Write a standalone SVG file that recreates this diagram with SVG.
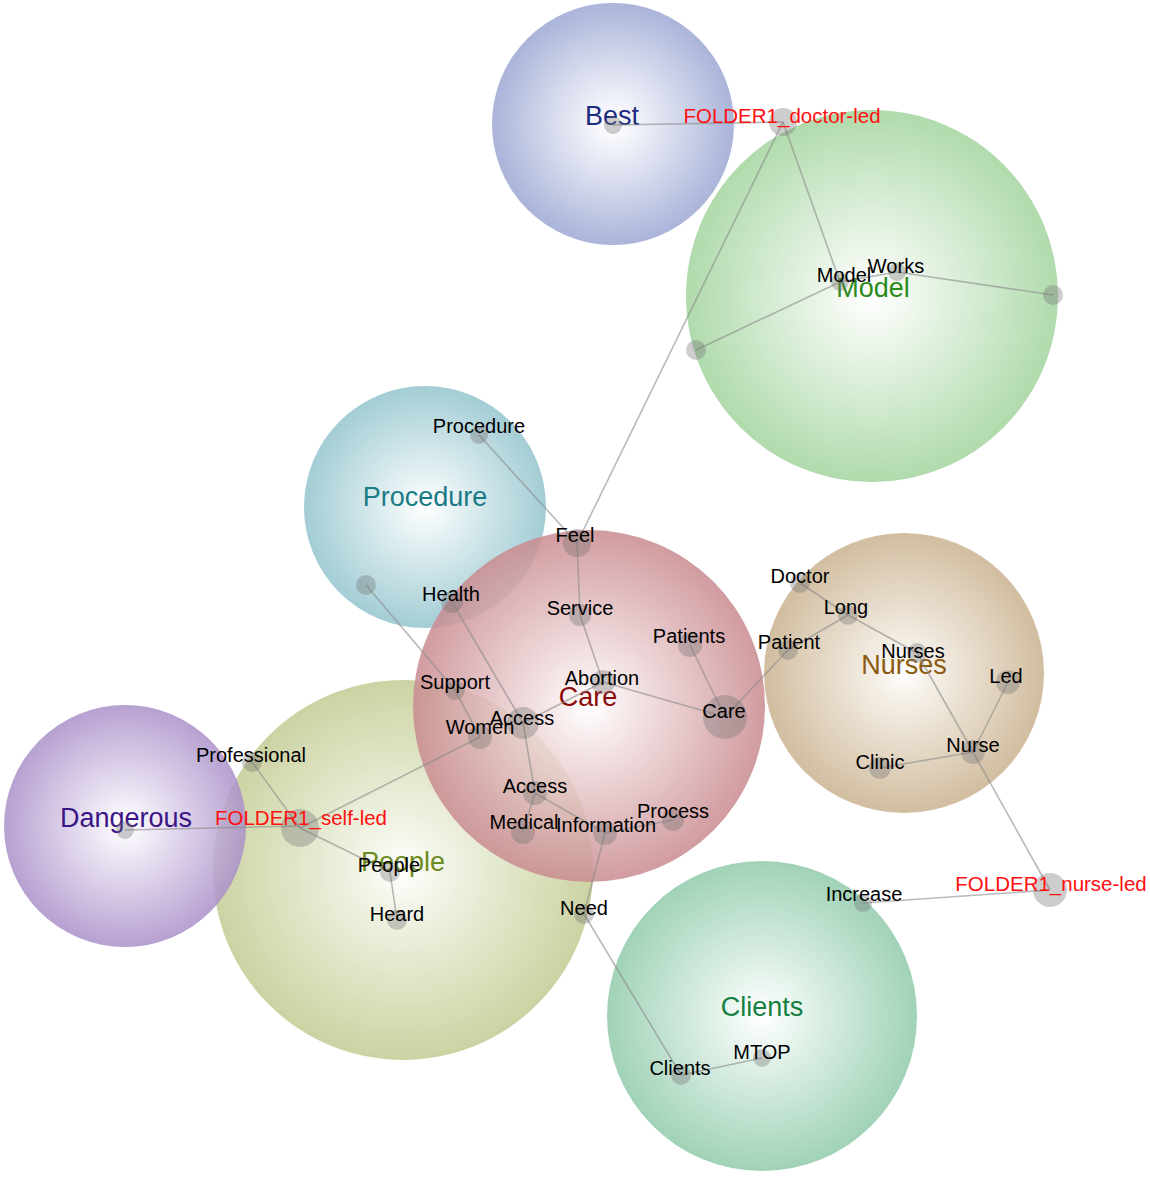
<svg xmlns="http://www.w3.org/2000/svg" width="1150" height="1177" viewBox="0 0 1150 1177">
<style>
.cl{fill-opacity:0.85}
.dot{fill:#707070;fill-opacity:0.35}
.e{stroke:#8a8a8a;stroke-opacity:0.6;stroke-width:1.6;fill:none}
.t{font-family:"Liberation Sans",Arial,sans-serif;font-size:20px;fill:#000;text-anchor:middle}
.f{font-family:"Liberation Sans",Arial,sans-serif;font-size:20.5px;fill:#ff1010;text-anchor:middle}
.c{font-family:"Liberation Sans",Arial,sans-serif;font-size:27px;text-anchor:middle}
</style>
<defs>
<radialGradient id="gBest"><stop offset="0" stop-color="#ffffff"/><stop offset="0.2" stop-color="#eef0f8"/><stop offset="1" stop-color="#9ca7d3"/></radialGradient>
<radialGradient id="gModel"><stop offset="0" stop-color="#ffffff"/><stop offset="0.2" stop-color="#eef7ec"/><stop offset="1" stop-color="#a3d49e"/></radialGradient>
<radialGradient id="gProc"><stop offset="0" stop-color="#ffffff"/><stop offset="0.2" stop-color="#e8f3f5"/><stop offset="1" stop-color="#93c4cd"/></radialGradient>
<radialGradient id="gCare"><stop offset="0" stop-color="#ffffff"/><stop offset="0.2" stop-color="#f5e6e7"/><stop offset="1" stop-color="#c98a8f"/></radialGradient>
<radialGradient id="gNurses"><stop offset="0" stop-color="#ffffff"/><stop offset="0.2" stop-color="#f3ede3"/><stop offset="1" stop-color="#c9b28f"/></radialGradient>
<radialGradient id="gPeople"><stop offset="0" stop-color="#ffffff"/><stop offset="0.2" stop-color="#f1f3e4"/><stop offset="1" stop-color="#c3cb92"/></radialGradient>
<radialGradient id="gDang"><stop offset="0" stop-color="#ffffff"/><stop offset="0.2" stop-color="#efe9f6"/><stop offset="1" stop-color="#aa90c9"/></radialGradient>
<radialGradient id="gClients"><stop offset="0" stop-color="#ffffff"/><stop offset="0.2" stop-color="#e8f5ee"/><stop offset="1" stop-color="#90caab"/></radialGradient>
</defs>
<rect width="1150" height="1177" fill="#ffffff"/>

<g id="clusters">
<g id="cluster-best"><circle class="cl" cx="613" cy="124" r="121" fill="url(#gBest)"/></g>
<g id="cluster-model"><circle class="cl" cx="872" cy="296" r="186" fill="url(#gModel)"/></g>
<g id="cluster-procedure"><circle class="cl" cx="425" cy="507" r="121" fill="url(#gProc)"/></g>
<g id="cluster-people"><circle class="cl" cx="403" cy="870" r="190" fill="url(#gPeople)"/></g>
<g id="cluster-dangerous"><circle class="cl" cx="125" cy="826" r="121" fill="url(#gDang)"/></g>
<g id="cluster-care"><circle class="cl" cx="589" cy="706" r="176" fill="url(#gCare)"/></g>
<g id="cluster-nurses"><circle class="cl" cx="904" cy="673" r="140" fill="url(#gNurses)"/></g>
<g id="cluster-clients"><circle class="cl" cx="762" cy="1016" r="155" fill="url(#gClients)"/></g>
</g>

<g id="cluster-labels">
<text class="c" x="612" y="125" fill="#1c2a80">Best</text>
<text class="c" x="873" y="297" fill="#2a8a1a">Model</text>
<text class="c" x="425" y="506" fill="#1a7a85">Procedure</text>
<text class="c" x="588" y="706" fill="#8b0a0a">Care</text>
<text class="c" x="904" y="674" fill="#8b5a10">Nurses</text>
<text class="c" x="403" y="871" fill="#6b8a20">People</text>
<text class="c" x="126" y="827" fill="#3a1585">Dangerous</text>
<text class="c" x="762" y="1016" fill="#158040">Clients</text>
</g>

<g id="connectors">
<line class="e" x1="613" y1="125" x2="783" y2="122"/>
<line class="e" x1="783" y1="122" x2="840" y2="282"/>
<line class="e" x1="783" y1="122" x2="577" y2="543"/>
<line class="e" x1="840" y1="282" x2="897" y2="272"/>
<line class="e" x1="897" y1="272" x2="1053" y2="295"/>
<line class="e" x1="840" y1="282" x2="696" y2="350"/>
<line class="e" x1="479" y1="435" x2="577" y2="543"/>
<line class="e" x1="577" y1="543" x2="580" y2="615"/>
<line class="e" x1="580" y1="615" x2="603" y2="682"/>
<line class="e" x1="603" y1="682" x2="725" y2="717"/>
<line class="e" x1="603" y1="682" x2="523" y2="723"/>
<line class="e" x1="690" y1="645" x2="725" y2="717"/>
<line class="e" x1="725" y1="717" x2="788" y2="650"/>
<line class="e" x1="788" y1="650" x2="848" y2="615"/>
<line class="e" x1="800" y1="583" x2="848" y2="615"/>
<line class="e" x1="848" y1="615" x2="917" y2="653"/>
<line class="e" x1="917" y1="653" x2="973" y2="752"/>
<line class="e" x1="1008" y1="682" x2="973" y2="752"/>
<line class="e" x1="880" y1="768" x2="973" y2="752"/>
<line class="e" x1="973" y1="752" x2="1050" y2="890"/>
<line class="e" x1="1050" y1="890" x2="863" y2="903"/>
<line class="e" x1="452" y1="602" x2="523" y2="723"/>
<line class="e" x1="366" y1="585" x2="455" y2="690"/>
<line class="e" x1="455" y1="690" x2="480" y2="737"/>
<line class="e" x1="480" y1="737" x2="300" y2="828"/>
<line class="e" x1="523" y1="723" x2="535" y2="793"/>
<line class="e" x1="535" y1="793" x2="523" y2="832"/>
<line class="e" x1="535" y1="793" x2="605" y2="833"/>
<line class="e" x1="605" y1="833" x2="673" y2="820"/>
<line class="e" x1="605" y1="833" x2="584" y2="914"/>
<line class="e" x1="584" y1="914" x2="681" y2="1075"/>
<line class="e" x1="681" y1="1075" x2="762" y2="1058"/>
<line class="e" x1="252" y1="762" x2="300" y2="828"/>
<line class="e" x1="300" y1="828" x2="390" y2="872"/>
<line class="e" x1="390" y1="872" x2="397" y2="920"/>
<line class="e" x1="125" y1="830" x2="300" y2="826"/>
</g>

<g id="nodes">
<g id="n-best"><circle class="dot" cx="613" cy="125" r="9"/></g>
<g id="n-doctor-led"><circle class="dot" cx="783" cy="122" r="14"/><text class="f" x="782" y="123">FOLDER1_doctor-led</text></g>
<g id="n-model"><circle class="dot" cx="840" cy="282" r="9"/><text class="t" x="844" y="282">Model</text></g>
<g id="n-works"><circle class="dot" cx="897" cy="272" r="9"/><text class="t" x="896" y="273">Works</text></g>
<g id="n-model-right"><circle class="dot" cx="1053" cy="295" r="10"/></g>
<g id="n-model-left"><circle class="dot" cx="696" cy="350" r="10"/></g>
<g id="n-procedure"><circle class="dot" cx="479" cy="435" r="9"/><text class="t" x="479" y="433">Procedure</text></g>
<g id="n-feel"><circle class="dot" cx="577" cy="543" r="14"/><text class="t" x="575" y="542">Feel</text></g>
<g id="n-health"><circle class="dot" cx="452" cy="602" r="11"/><text class="t" x="451" y="601">Health</text></g>
<g id="n-unlabeled"><circle class="dot" cx="366" cy="585" r="10"/></g>
<g id="n-service"><circle class="dot" cx="580" cy="615" r="11"/><text class="t" x="580" y="615">Service</text></g>
<g id="n-patients"><circle class="dot" cx="690" cy="645" r="12"/><text class="t" x="689" y="643">Patients</text></g>
<g id="n-abortion"><circle class="dot" cx="603" cy="682" r="12"/><text class="t" x="602" y="685">Abortion</text></g>
<g id="n-care"><circle class="dot" cx="725" cy="717" r="22"/><text class="t" x="724" y="718">Care</text></g>
<g id="n-support"><circle class="dot" cx="455" cy="690" r="10"/><text class="t" x="455" y="689">Support</text></g>
<g id="n-access1"><circle class="dot" cx="523" cy="723" r="16"/><text class="t" x="522" y="725">Access</text></g>
<g id="n-women"><circle class="dot" cx="480" cy="737" r="12"/><text class="t" x="480" y="734">Women</text></g>
<g id="n-access2"><circle class="dot" cx="535" cy="793" r="12"/><text class="t" x="535" y="793">Access</text></g>
<g id="n-medical"><circle class="dot" cx="523" cy="832" r="12"/><text class="t" x="524" y="829">Medical</text></g>
<g id="n-information"><circle class="dot" cx="605" cy="833" r="12"/><text class="t" x="606" y="832">Information</text></g>
<g id="n-process"><circle class="dot" cx="673" cy="820" r="11"/><text class="t" x="673" y="818">Process</text></g>
<g id="n-doctor"><circle class="dot" cx="800" cy="583" r="10"/><text class="t" x="800" y="583">Doctor</text></g>
<g id="n-long"><circle class="dot" cx="848" cy="615" r="10"/><text class="t" x="846" y="614">Long</text></g>
<g id="n-patient"><circle class="dot" cx="788" cy="650" r="10"/><text class="t" x="789" y="649">Patient</text></g>
<g id="n-nurses"><circle class="dot" cx="917" cy="653" r="10"/><text class="t" x="913" y="658">Nurses</text></g>
<g id="n-led"><circle class="dot" cx="1008" cy="682" r="12"/><text class="t" x="1006" y="683">Led</text></g>
<g id="n-nurse"><circle class="dot" cx="973" cy="752" r="12"/><text class="t" x="973" y="752">Nurse</text></g>
<g id="n-clinic"><circle class="dot" cx="880" cy="768" r="11"/><text class="t" x="880" y="769">Clinic</text></g>
<g id="n-nurse-led"><circle class="dot" cx="1050" cy="890" r="17"/><text class="f" x="1051" y="891">FOLDER1_nurse-led</text></g>
<g id="n-increase"><circle class="dot" cx="863" cy="903" r="9"/><text class="t" x="864" y="901">Increase</text></g>
<g id="n-professional"><circle class="dot" cx="252" cy="762" r="10"/><text class="t" x="251" y="762">Professional</text></g>
<g id="n-dangerous"><circle class="dot" cx="125" cy="830" r="9"/></g>
<g id="n-self-led"><circle class="dot" cx="300" cy="828" r="19"/><text class="f" x="301" y="825">FOLDER1_self-led</text></g>
<g id="n-people"><circle class="dot" cx="390" cy="872" r="10"/><text class="t" x="389" y="872">People</text></g>
<g id="n-heard"><circle class="dot" cx="397" cy="920" r="10"/><text class="t" x="397" y="921">Heard</text></g>
<g id="n-need"><circle class="dot" cx="584" cy="914" r="10"/><text class="t" x="584" y="915">Need</text></g>
<g id="n-clients"><circle class="dot" cx="681" cy="1075" r="10"/><text class="t" x="680" y="1075">Clients</text></g>
<g id="n-mtop"><circle class="dot" cx="762" cy="1058" r="9"/><text class="t" x="762" y="1059">MTOP</text></g>
</g>
</svg>
